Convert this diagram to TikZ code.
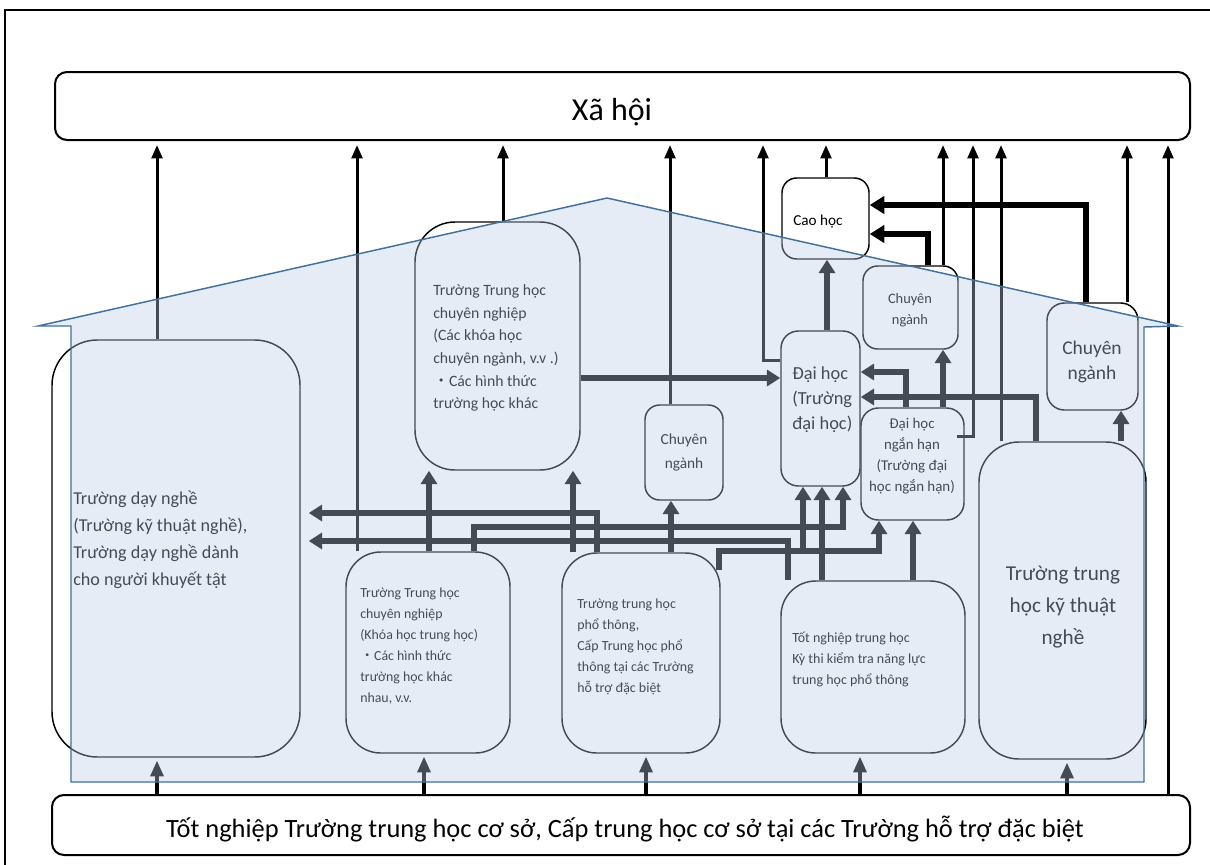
\documentclass[tikz,border=0pt]{standalone}
\usepackage{fontspec}
\setmainfont{Carlito}
\newfontfamily\cjk{Noto Sans CJK JP}
\usetikzlibrary{arrows.meta,fit,calc}
\definecolor{houseFill}{HTML}{BDCDE6}
\definecolor{houseLine}{HTML}{41719C}
\newcommand{\fsz}[2]{\fontsize{#1}{#2}\selectfont}
\begin{document}
\begin{tikzpicture}[x=0.75pt,y=-0.75pt,
 box/.style={draw=black, line width=1.1pt, inner sep=0pt},
 bigbox/.style={draw=black, line width=1.5pt, inner sep=0pt, rounded corners=9pt},
 txt/.style={inner sep=0pt, align=left, text=black},
 ctxt/.style={inner sep=0pt, align=center, text=black},
 socarrow/.style={draw=black, line width=2.25pt, -{Triangle[length=10pt,width=8pt]}, shorten >=3pt},
 caoarrow/.style={draw=black, line width=4.5pt, -{Triangle[length=11pt,width=13pt]}},
 inarrow/.style={draw=black, line width=4.5pt, -{Triangle[length=10pt,width=12pt]}},
 botarrow/.style={draw=black, line width=3pt, -{Triangle[length=12pt,width=9.5pt]}, shorten >=2pt},
]
\useasboundingbox (0,0) rectangle (1210,864);
\fill[white] (0,0) rectangle (1210,864);
\draw[line width=1.8pt] (5,10) rectangle (1225,880);

% boxes
\node[bigbox, fit={(55,72)(1190,140)}] (soc) {};
\node[bigbox, fit={(52,795)(1190,855)}] (bot) {};
\node[box, rounded corners=34pt, fit={(52,340)(300,757)}] (dn) {};
\node[box, rounded corners=30pt, fit={(415,222)(580,470)}] (tt1) {};
\node[box, rounded corners=26pt, fit={(346,552)(510,753)}] (tt2) {};
\node[box, rounded corners=26pt, fit={(562,553)(720,753)}] (pt) {};
\node[box, rounded corners=26pt, fit={(781,581)(965,753)}] (tn) {};
\node[box, rounded corners=30pt, fit={(979,442)(1146,759)}] (kt) {};
\node[box, rounded corners=11pt, fit={(645,405)(723,500)}] (cn1) {};
\node[box, rounded corners=13pt, fit={(781,331)(860,486)}] (dh) {};
\node[box, rounded corners=13pt, fit={(861,408)(964,520)}] (nh) {};
\node[box, rounded corners=11pt, fit={(863,266)(958,349)}] (cn2) {};
\node[box, rounded corners=11pt, fit={(782,178)(869,259)}] (ch) {};
\node[box, rounded corners=13pt, fit={(1047,303)(1138,410)}] (cn3) {};

% arrows to society
\draw[socarrow] (dn.north -| 157,0) -- (soc.south -| 157,0);
\draw[socarrow] (tt2.north -| 357,0) -- (soc.south -| 357,0);
\draw[socarrow] (tt1.north -| 503,0) -- (soc.south -| 503,0);
\draw[socarrow] (cn1.north -| 670,0) -- (soc.south -| 670,0);
\draw[socarrow] (dh.west |- 0,360) -- (763,360) -- (soc.south -| 763,0);
\draw[socarrow] (ch.north -| 826,0) -- (soc.south -| 826,0);
\draw[socarrow] (cn2.north -| 943,0) -- (soc.south -| 943,0);
\coordinate (nhs) at ($(nh.east |- 0,436)+(-8,0)$);
\draw[socarrow] (nhs) -- (973,436) -- (soc.south -| 973,0);
\draw[socarrow] (kt.north -| 1001,0) -- (soc.south -| 1001,0);
\draw[socarrow] (cn3.north -| 1127,0) -- (soc.south -| 1127,0);
\draw[socarrow] (bot.north -| 1168,0) -- (soc.south -| 1168,0);

% arrows to Cao hoc
\draw[caoarrow] (cn3.north -| 1086,0) -- (1086,205) -- (ch.east |- 0,205);
\draw[caoarrow] (cn2.north -| 928,0) -- (928,234) -- (ch.east |- 0,234);
\draw[inarrow] (dh.north -| 827,0) -- (ch.south -| 827,0);

% internal arrows
\draw[inarrow] (tt1.east |- 0,378) -- (dh.west |- 0,378);
\draw[inarrow] (nh.north -| 906,0) -- (906,372) -- (dh.east |- 0,372);
\draw[inarrow] (kt.north -| 1036,0) -- (1036,397) -- (dh.east |- 0,397);
\draw[inarrow] (nh.north -| 943,0) -- (cn2.south -| 943,0);
\draw[inarrow] (kt.north -| 1121,0) -- (cn3.south -| 1121,0);
\draw[inarrow] (tt2.north -| 429,0) -- (tt1.south -| 429,0);
\draw[inarrow] (pt.north -| 573,0) -- (tt1.south -| 573,0);
\draw[inarrow, shorten >=6pt] (pt.north -| 597,0) -- (597,513) -- (dn.east |- 0,513);
\draw[inarrow, shorten >=6pt] (tn.north -| 788,0) -- (788,541) -- (dn.east |- 0,541);
\draw[inarrow] (tt2.north -| 474,0) -- (474,527) -- (843,527) -- (dh.south -| 843,0);
\coordinate (ptc) at ($(pt.north east)+(-2,18)$);
\draw[inarrow] (ptc) -- (ptc |- 0,551) -- (879,551) -- (nh.south -| 879,0);
\draw[inarrow] (803,551) -- (dh.south -| 803,0);
\draw[inarrow] (tn.north -| 822,0) -- (dh.south -| 822,0);
\draw[inarrow] (tn.north -| 913,0) -- (nh.south -| 913,0);
\draw[inarrow] (pt.north -| 671,0) -- (cn1.south -| 671,0);

% arrows from bottom
\draw[botarrow] (bot.north -| 157,0) -- (dn.south -| 157,0);
\draw[botarrow] (bot.north -| 424,0) -- (tt2.south -| 424,0);
\draw[botarrow] (bot.north -| 646,0) -- (pt.south -| 646,0);
\draw[botarrow] (bot.north -| 860,0) -- (tn.south -| 860,0);
\draw[botarrow] (bot.north -| 1067,0) -- (kt.south -| 1067,0);

% texts
\node[ctxt, font=\fsz{24pt}{28pt}] (socT) at (612,112) {Xã hội};
\node[ctxt, font=\fsz{19.8pt}{24pt}] (botT) at (625,829) {Tốt nghiệp Trường trung học cơ sở, Cấp trung học cơ sở tại các Trường hỗ trợ đặc biệt};
\node[txt, anchor=west, font=\fsz{13.6pt}{20.25pt}] (dnT) at (73,540) {Trường dạy nghề\\(Trường kỹ thuật nghề),\\Trường dạy nghề dành\\cho người khuyết tật};
\node[txt, anchor=west, font=\fsz{11.8pt}{17pt}] (tt1T) at (433,348) {Trường Trung học\\chuyên nghiệp\\(Các khóa học\\chuyên ngành, v.v .)\\{\cjk ・}Các hình thức\\trường học khác};
\node[txt, anchor=west, font=\fsz{10.4pt}{15.75pt}] (tt2T) at (360,646) {Trường Trung học\\chuyên nghiệp\\(Khóa học trung học)\\{\cjk ・}Các hình thức\\trường học khác\\nhau, v.v.};
\node[txt, anchor=west, font=\fsz{10.45pt}{15.75pt}] (ptT) at (577,647) {Trường trung học\\phổ thông,\\Cấp Trung học phổ\\thông tại các Trường\\hỗ trợ đặc biệt};
\node[txt, anchor=west, font=\fsz{10.5pt}{15.75pt}] (tnT) at (792,659) {Tốt nghiệp trung học\\Kỳ thi kiểm tra năng lực\\trung học phổ thông};
\node[ctxt, font=\fsz{15.9pt}{24pt}] (ktT) at (1063,607) {Trường trung\\học kỹ thuật\\nghề};
\node[ctxt, font=\fsz{11.5pt}{18pt}] (cn1T) at (684,452) {Chuyên\\ngành};
\node[txt, anchor=west, font=\fsz{13.8pt}{18.75pt}] (dhT) at (792,400) {Đại học\\(Trường\\đại học)};
\node[ctxt, font=\fsz{11.2pt}{15.75pt}] (nhT) at (912,456) {Đại học\\ngắn hạn\\(Trường đại\\học ngắn hạn)};
\node[ctxt, font=\fsz{10.8pt}{15.75pt}] (cn2T) at (910,310) {Chuyên\\ngành};
\node[txt, anchor=west, font=\fsz{11.4pt}{14pt}] (chT) at (793,222) {Cao học};
\node[ctxt, font=\fsz{14.6pt}{18.75pt}] (cn3T) at (1092,362) {Chuyên\\ngành};

% house overlay
\fill[houseFill, fill opacity=0.37] (38,326) -- (607,198) -- (1178,326) -- (1144,327) -- (1144,782) -- (71,782) -- (71,326) -- cycle;
\draw[houseLine, line width=1.1pt] (38,326) -- (607,198) -- (1178,326) -- (1144,327) -- (1144,782) -- (71,782) -- (71,326) -- cycle;
\end{tikzpicture}
\end{document}
